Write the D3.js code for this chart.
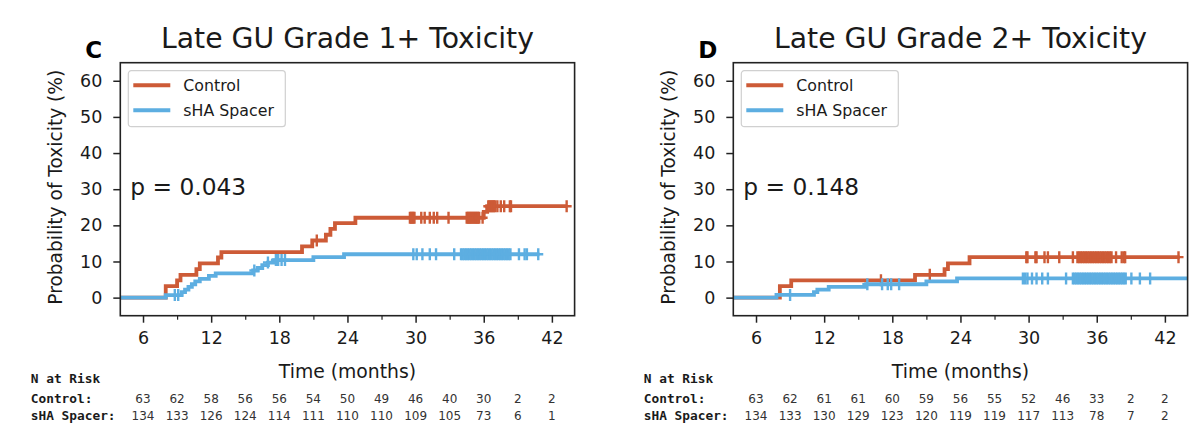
<!DOCTYPE html>
<html><head><meta charset="utf-8">
<script src="https://cdn.jsdelivr.net/npm/d3@7"></script>
<style>
body{margin:0;background:#fff}
svg{display:block}
text{font-family:"DejaVu Sans",sans-serif;fill:#1a1a1a}
text.mono{font-family:"DejaVu Sans Mono",monospace}
</style>
</head><body>
<svg id="c" width="1200" height="438"></svg>
<script>
// ---------- shared ----------
const seriesNames = ["Control", "sHA Spacer"];
const seriesColors = ["#CD5B37", "#5DAEE1"];
const xTicks = [6, 12, 18, 24, 30, 36, 42];
const xMinorTicks = [9, 15, 21, 27, 33, 39];
const yTicks = [0, 10, 20, 30, 40, 50, 60];
const riskTimes = [6, 9, 12, 15, 18, 21, 24, 27, 30, 33, 36, 39, 42];
const riskRowLabels = ["Control:", "sHA Spacer:"];

// ---------- Panel C: Late GU Grade 1+ ----------
const g1CtrlTimes = [0, 8.0, 9.0, 9.3, 10.7, 11.0, 12.6, 12.9, 20.0, 20.9, 22.1, 22.5, 22.9, 24.7, 36.0, 36.3, 43.3];
const g1CtrlVals  = [0, 3.2, 4.8, 6.3, 7.9, 9.5, 11.1, 12.6, 14.2, 15.8, 17.4, 19.0, 20.6, 22.1, 23.7, 25.3, 25.3];
const g1CtrlCens  = [21.3, 29.5, 29.6, 29.7, 29.8, 29.9, 30.5, 30.8, 31.25, 31.6, 31.9, 32.9,
  34.5, 34.6, 34.7, 34.8, 34.9, 35.0, 35.1, 35.2, 35.3, 35.4, 35.5, 35.6, 35.9,
  36.4, 36.5, 36.6, 36.7, 36.8, 36.9, 37.0, 37.2, 37.5, 37.8, 38.3, 38.4, 43.3];
const g1ShaTimes = [0, 8.0, 9.4, 9.7, 10.0, 10.3, 10.6, 11.0, 11.8, 12.4, 15.7, 16.1, 16.5, 17.0, 17.5, 21.0, 23.7, 40.9];
const g1ShaVals  = [0, 0.7, 1.5, 2.2, 3.0, 3.7, 4.5, 5.2, 6.0, 6.7, 7.5, 8.2, 9.0, 9.7, 10.4, 11.2, 12.0, 12.0];
const g1ShaCens  = [8.8, 9.1, 15.8, 17.0, 17.7, 17.9, 18.2, 18.5, 29.8, 30.1, 30.6, 31.25, 31.8, 33.4,
  34.0, 34.15, 34.3, 34.45, 34.6, 34.75, 34.9, 35.05, 35.2, 35.35, 35.5, 35.65, 35.8, 35.95,
  36.1, 36.25, 36.4, 36.55, 36.7, 36.85, 37.0, 37.15, 37.3, 37.45, 37.6, 37.75, 37.9, 38.05,
  38.2, 38.35, 39.1, 39.6, 39.8, 40.8];
const g1CtrlRisk = [63, 62, 58, 56, 56, 54, 50, 49, 46, 40, 30, 2, 2];
const g1ShaRisk  = [134, 133, 126, 124, 114, 111, 110, 110, 109, 105, 73, 6, 1];

// ---------- Panel D: Late GU Grade 2+ ----------
const g2CtrlTimes = [0, 8.1, 9.1, 20.0, 22.6, 22.9, 24.8, 43.3];
const g2CtrlVals  = [0, 3.2, 4.8, 6.3, 7.9, 9.5, 11.2, 11.2];
const g2CtrlCens  = [17.0, 21.3, 29.8, 29.9, 30.6, 30.7, 31.4, 31.7, 32.7, 33.9,
  34.3, 34.45, 34.6, 34.75, 34.9, 35.05, 35.2, 35.35, 35.5, 35.65, 35.8, 35.95,
  36.1, 36.25, 36.4, 36.55, 36.7, 36.85, 37.0, 37.15, 37.3, 37.7, 38.2, 38.4, 38.5, 43.2];
const g2ShaTimes = [0, 7.8, 11.1, 11.4, 12.4, 15.7, 21.0, 23.7, 44.5];
const g2ShaVals  = [0, 0.75, 1.5, 2.2, 3.0, 3.7, 4.5, 5.3, 5.3];
const g2ShaCens  = [9.0, 15.8, 17.1, 17.6, 17.9, 18.6, 29.5, 29.7, 29.9, 30.3, 30.7, 31.2, 31.7, 33.3,
  33.9, 34.05, 34.2, 34.35, 34.5, 34.65, 34.8, 34.95, 35.1, 35.25, 35.4, 35.55, 35.7, 35.85,
  36.0, 36.15, 36.3, 36.45, 36.6, 36.75, 36.9, 37.05, 37.2, 37.35, 37.5, 37.65, 37.8, 37.95,
  38.1, 38.25, 38.4, 38.55, 39.05, 39.8, 40.7];
const g2CtrlRisk = [63, 62, 61, 61, 60, 59, 56, 55, 52, 46, 33, 2, 2];
const g2ShaRisk  = [134, 133, 130, 129, 123, 120, 119, 119, 117, 113, 78, 7, 2];

// ---------- drawing ----------
const panels = [
  { ox: 120.3, letter: "C", title: "Late GU Grade 1+ Toxicity", p: "p = 0.043",
    series: [[g1CtrlTimes, g1CtrlVals, g1CtrlCens], [g1ShaTimes, g1ShaVals, g1ShaCens]],
    risk: [g1CtrlRisk, g1ShaRisk] },
  { ox: 733.3, letter: "D", title: "Late GU Grade 2+ Toxicity", p: "p = 0.148",
    series: [[g2CtrlTimes, g2CtrlVals, g2CtrlCens], [g2ShaTimes, g2ShaVals, g2ShaCens]],
    risk: [g2CtrlRisk, g2ShaRisk] }
];

const W = 454.3, H = 253, TOP = 62.7;
const svg = d3.select("#c");
const defs = svg.append("defs");

panels.forEach((P, i) => {
  const x = d3.scaleLinear().domain([4, 44]).range([P.ox, P.ox + W]);
  const y = d3.scaleLinear().domain([-5, 65]).range([TOP + H, TOP]);

  defs.append("clipPath").attr("id", "clip" + i)
    .append("rect").attr("x", P.ox).attr("y", TOP).attr("width", W).attr("height", H);

  const plot = svg.append("g").attr("clip-path", `url(#clip${i})`);
  const line = d3.line().x(d => x(d[0])).y(d => y(d[1])).curve(d3.curveStepAfter);

  P.series.forEach((s, k) => {
    const [times, vals, cens] = s;
    const pts = times.map((t, j) => [t, vals[j]]);
    plot.append("path").attr("d", line(pts))
      .attr("fill", "none").attr("stroke", seriesColors[k]).attr("stroke-width", 3.8);
    const valAt = t => { let v = 0; for (let j = 0; j < times.length; j++) if (times[j] <= t) v = vals[j]; return v; };
    plot.append("g").selectAll("path").data(cens).join("path")
      .attr("d", t => { const cx = x(t), cy = y(valAt(t)); return `M${cx-5},${cy}H${cx+5}M${cx},${cy-6}V${cy+6}`; })
      .attr("fill", "none").attr("stroke", seriesColors[k]).attr("stroke-width", 2.4);
  });

  // axes
  const gx = svg.append("g").attr("transform", `translate(0,${TOP + H})`)
    .call(d3.axisBottom(x).tickValues(xTicks).tickSize(7).tickPadding(9).tickFormat(d3.format("d")));
  gx.select(".domain").remove();
  gx.selectAll("text").attr("font-size", 17.5).attr("fill", "#1a1a1a");
  gx.selectAll("line").attr("stroke", "#222").attr("stroke-width", 1.5);
  const gxm = svg.append("g").attr("transform", `translate(0,${TOP + H})`)
    .call(d3.axisBottom(x).tickValues(xMinorTicks).tickSize(4).tickFormat(""));
  gxm.select(".domain").remove();
  gxm.selectAll("line").attr("stroke", "#222").attr("stroke-width", 1.2);

  const gy = svg.append("g").attr("transform", `translate(${P.ox},0)`)
    .call(d3.axisLeft(y).tickValues(yTicks).tickSize(7).tickPadding(11).tickFormat(d3.format("d")));
  gy.select(".domain").remove();
  gy.selectAll("text").attr("font-size", 17.5).attr("fill", "#1a1a1a");
  gy.selectAll("line").attr("stroke", "#222").attr("stroke-width", 1.5);

  // frame
  svg.append("rect").attr("x", P.ox).attr("y", TOP).attr("width", W).attr("height", H)
    .attr("fill", "none").attr("stroke", "#222").attr("stroke-width", 1.6);

  // titles and labels
  svg.append("text").attr("x", P.ox + W / 2).attr("y", 48).attr("text-anchor", "middle")
    .attr("font-size", 28.3).text(P.title);
  svg.append("text").attr("x", P.ox - 35).attr("y", 58).attr("font-size", 23)
    .attr("font-weight", "bold").style("fill", "#000").text(P.letter);
  svg.append("text").attr("transform", `translate(${P.ox - 58.5},${TOP + H / 2 - 2}) rotate(-90)`)
    .attr("text-anchor", "middle").attr("font-size", 18.6).text("Probability of Toxicity (%)");
  svg.append("text").attr("x", P.ox + W / 2).attr("y", 378).attr("text-anchor", "middle")
    .attr("font-size", 18.8).text("Time (months)");
  svg.append("text").attr("x", P.ox + 10).attr("y", 195).attr("font-size", 23.3).text(P.p);

  // legend
  const lg = svg.append("g").attr("transform", `translate(${P.ox + 8},${TOP + 8})`);
  lg.append("rect").attr("x", 0).attr("y", 0).attr("width", 157).attr("height", 56).attr("rx", 3)
    .attr("fill", "#fff").attr("fill-opacity", 0.8).attr("stroke", "#d0d0d0").attr("stroke-width", 1.2);
  seriesNames.forEach((n, k) => {
    const yy = 14.5 + k * 25;
    lg.append("line").attr("x1", 5).attr("x2", 42).attr("y1", yy).attr("y2", yy)
      .attr("stroke", seriesColors[k]).attr("stroke-width", 4);
    lg.append("text").attr("x", 55).attr("y", yy + 6).attr("font-size", 15.8).text(n);
  });

  // number at risk table
  const tx = P.ox - 89.5;
  svg.append("text").attr("class", "mono").attr("x", tx).attr("y", 383)
    .attr("font-weight", "bold").attr("font-size", 12.8).text("N at Risk");
  riskRowLabels.forEach((lab, k) => {
    const yy = 403 + k * 16.5;
    svg.append("text").attr("class", "mono").attr("x", tx).attr("y", yy)
      .attr("font-weight", "bold").attr("font-size", 12.8).text(lab);
    svg.append("g").selectAll("text").data(riskTimes).join("text")
      .attr("x", t => x(t)).attr("y", yy).attr("text-anchor", "middle")
      .attr("font-size", 12).style("fill", "#333")
      .text((t, j) => P.risk[k][j]);
  });
});
</script>
</body></html>
